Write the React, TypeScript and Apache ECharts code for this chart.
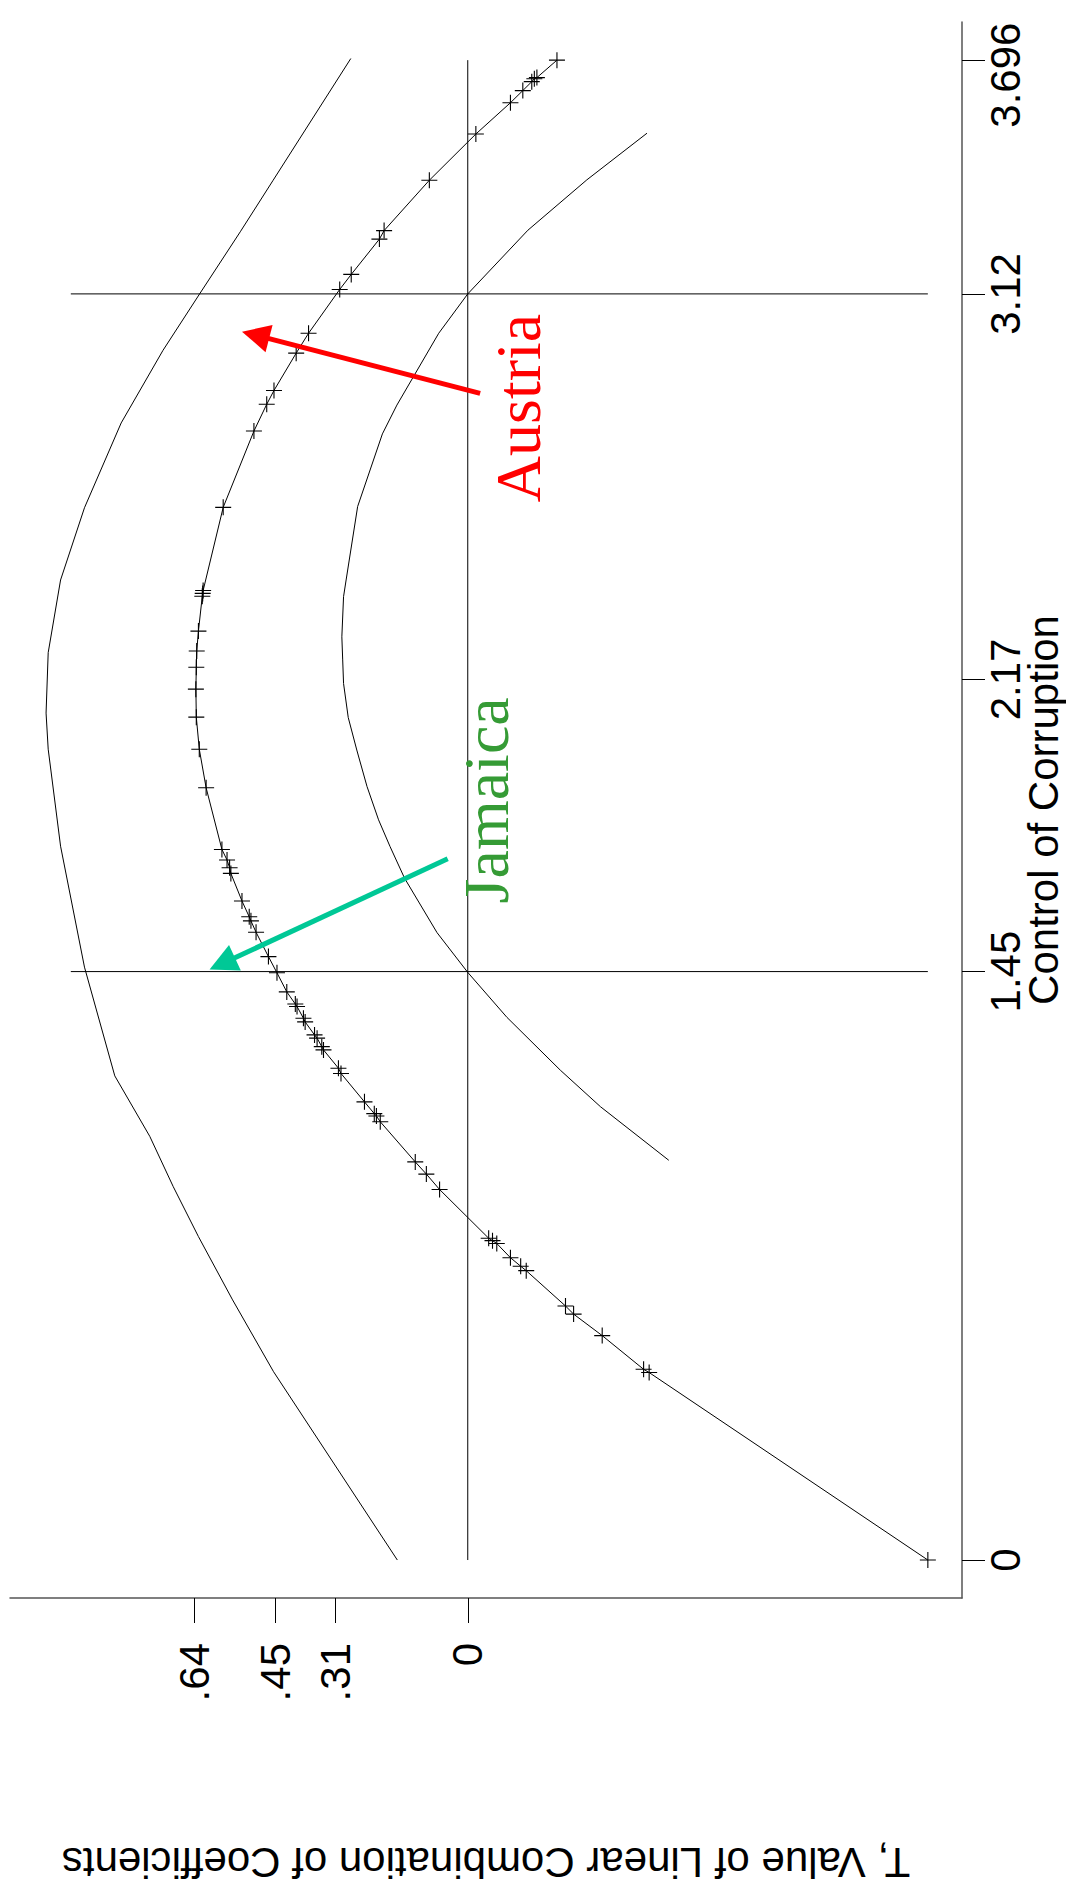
import React, { useEffect, useRef } from 'react';
import * as echarts from 'echarts';

// Axis ticks
const ccTicks = [0, 1.45, 2.17, 3.12, 3.696];
const tTicks = [0, 0.31, 0.45, 0.64];

// Fitted combination (with + markers): control of corruption / T value
const fitCC = [0, 0.462, 0.47, 0.553, 0.606, 0.626, 0.713, 0.724, 0.745, 0.78, 0.787, 0.793, 0.913, 0.951, 0.981,
  1.08, 1.094, 1.1, 1.129, 1.199, 1.212, 1.257, 1.265, 1.286, 1.294, 1.326, 1.335, 1.364, 1.37, 1.4, 1.447, 1.487,
  1.547, 1.575, 1.585, 1.624, 1.692, 1.706, 1.725, 1.751, 1.903, 1.998, 2.077, 2.146, 2.2, 2.24, 2.289, 2.375,
  2.382, 2.389, 2.594, 2.782, 2.848, 2.882, 2.974, 3.023, 3.131, 3.168, 3.255, 3.276, 3.4, 3.514, 3.591, 3.621,
  3.643, 3.65, 3.653, 3.696];
const fitT = [-1.078, -0.425, -0.412, -0.315, -0.248, -0.229, -0.137, -0.124, -0.1, -0.068, -0.058, -0.049, 0.066,
  0.097, 0.123, 0.205, 0.214, 0.219, 0.242, 0.297, 0.303, 0.338, 0.342, 0.353, 0.359, 0.381, 0.385, 0.4, 0.404,
  0.424, 0.447, 0.467, 0.496, 0.508, 0.512, 0.529, 0.555, 0.558, 0.564, 0.576, 0.613, 0.629, 0.636, 0.637, 0.636,
  0.635, 0.631, 0.622, 0.621, 0.62, 0.573, 0.501, 0.471, 0.454, 0.402, 0.373, 0.3, 0.273, 0.207, 0.196, 0.09,
  -0.019, -0.1, -0.129, -0.15, -0.156, -0.162, -0.209];

// Upper band
const upperCC = [0, 0.464, 0.641, 0.797, 0.92, 1.044, 1.193, 1.461, 1.759, 1.998, 2.087, 2.236, 2.415, 2.593, 2.802,
  2.981, 3.122, 3.273, 3.4, 3.7];
const upperT = [0.165, 0.455, 0.551, 0.631, 0.69, 0.745, 0.827, 0.898, 0.954, 0.983, 0.988, 0.983, 0.954, 0.898,
  0.812, 0.714, 0.627, 0.533, 0.456, 0.274];

// Lower band
const lowerCC = [0.985, 1.117, 1.207, 1.337, 1.448, 1.546, 1.68, 1.758, 1.824, 1.906, 1.996, 2.076, 2.16, 2.218,
  2.275, 2.374, 2.415, 2.596, 2.775, 2.846, 3.023, 3.12, 3.277, 3.401, 3.516];
const lowerT = [-0.471, -0.311, -0.217, -0.092, 0, 0.072, 0.148, 0.182, 0.209, 0.236, 0.26, 0.28, 0.291, 0.293,
  0.295, 0.291, 0.285, 0.258, 0.2, 0.166, 0.068, 0, -0.141, -0.279, -0.42];

// Reference lines
const refCC = [1.45, 3.12];
const refTSpan = [0.93, -1.078];
const zeroLineCC = [0, 3.696];

// Annotations
const annNames = ['Austria', 'Jamaica'];
const annColors = ['#ff0000', '#359b35'];
const arrowColors = ['#ff0000', '#00c896'];
const annTextT = [-0.118, -0.043];
const annTextCC = [2.839, 1.872];
const arrowTailT = [-0.029, 0.047];
const arrowTailCC = [2.875, 1.728];
const arrowTipT = [0.529, 0.605];
const arrowTipCC = [3.027, 1.455];

const SANS = '"Liberation Sans", Arial, Helvetica, sans-serif';
const SERIF = '"Liberation Serif", "Times New Roman", serif';
const PLUS = 'path://M0,10L20,10M10,0L10,20';

export default function App() {
  const ref = useRef<HTMLDivElement>(null);
  useEffect(() => {
    document.body.style.margin = '0';
    const chart = echarts.init(ref.current!, null, { renderer: 'svg' });
    const zip = (ts: number[], cs: number[]) => ts.map((t, i) => [t, cs[i]]);
    const thin = { color: '#000', width: 1 };
    const series: any[] = [
      {
        type: 'line', data: zip(upperT, upperCC), symbol: 'none', lineStyle: thin, silent: true,
      },
      {
        type: 'line', data: zip(lowerT, lowerCC), symbol: 'none', lineStyle: thin, silent: true,
      },
      {
        type: 'line', data: [[0, zeroLineCC[0]], [0, zeroLineCC[1]]], symbol: 'none', lineStyle: thin, silent: true,
      },
      ...refCC.map((c) => ({
        type: 'line', data: [[refTSpan[0], c], [refTSpan[1], c]], symbol: 'none', lineStyle: thin, silent: true,
      })),
      {
        type: 'line', data: zip(fitT, fitCC), symbol: PLUS, symbolSize: 16, showAllSymbol: true,
        lineStyle: thin,
        itemStyle: { color: 'rgba(0,0,0,0)', borderColor: '#000', borderWidth: 1.1 },
        silent: true, z: 5,
      },
    ];
    chart.setOption({
      animation: false,
      backgroundColor: '#fff',
      grid: { left: 10, right: 104, top: 22, bottom: 298, outerBoundsMode: 'none' },
      xAxis: {
        type: 'value', position: 'bottom', inverse: true, min: -1.158, max: 1.0725,
        axisLine: { show: true, onZero: false, lineStyle: { color: '#555', width: 1.5 } },
        axisTick: { show: true, customValues: tTicks, length: 25, lineStyle: { color: '#000', width: 1 } },
        axisLabel: {
          customValues: tTicks, rotate: 90, margin: 45, fontSize: 42, fontFamily: SANS, color: '#000',
          formatter: (v: number) => (v === 0 ? '0' : String(v).replace(/^0/, '')),
        },
        splitLine: { show: false },
        name: 'T, Value of Linear Combination of Coefficients',
        nameLocation: 'middle', nameRotate: 180, nameGap: 243, nameMoveOverlap: false,
        nameTextStyle: { fontSize: 42, fontFamily: SANS, color: '#000' },
      },
      yAxis: {
        type: 'value', position: 'right', min: -0.0936, max: 3.79,
        axisLine: { show: true, onZero: false, lineStyle: { color: '#555', width: 1.5 } },
        axisTick: { show: true, customValues: ccTicks, length: 23, lineStyle: { color: '#000', width: 1 } },
        axisLabel: {
          customValues: ccTicks, rotate: 90, margin: 22, fontSize: 42, fontFamily: SANS, color: '#000',
          formatter: (v: number) => (v === 3.696 ? '{s|3.696}' : String(v)),
          rich: { s: { fontSize: 42, fontFamily: SANS, color: '#000', padding: [0, 30, 0, 0] } },
        },
        splitLine: { show: false },
        name: 'Control of Corruption', nameLocation: 'middle', nameGap: 60, nameMoveOverlap: false,
        nameTextStyle: { fontSize: 42, fontFamily: SANS, color: '#000' },
      },
      series,
    });

    const px = (t: number, c: number) => chart.convertToPixel({ gridIndex: 0 }, [t, c]) as number[];
    const graphics: any[] = [];
    annNames.forEach((name, i) => {
      const tail = px(arrowTailT[i], arrowTailCC[i]);
      const tip = px(arrowTipT[i], arrowTipCC[i]);
      const dx = tip[0] - tail[0];
      const dy = tip[1] - tail[1];
      const len = Math.hypot(dx, dy);
      const ux = dx / len;
      const uy = dy / len;
      const L = 28;
      const W = 14;
      const bx = tip[0] - ux * L;
      const by = tip[1] - uy * L;
      graphics.push({
        type: 'line', z: 100,
        shape: { x1: tail[0], y1: tail[1], x2: tip[0] - ux * (L - 3), y2: tip[1] - uy * (L - 3) },
        style: { stroke: arrowColors[i], lineWidth: 5 },
      });
      graphics.push({
        type: 'polygon', z: 100,
        shape: { points: [[tip[0], tip[1]], [bx - uy * W, by + ux * W], [bx + uy * W, by - ux * W]] },
        style: { fill: arrowColors[i] },
      });
      const tp = px(annTextT[i], annTextCC[i]);
      graphics.push({
        type: 'text', z: 100, x: tp[0], y: tp[1], rotation: Math.PI / 2,
        style: {
          text: name, fill: annColors[i], font: `64px ${SERIF}`, fontSize: 64, fontFamily: SERIF,
          textAlign: 'center', textVerticalAlign: 'middle', align: 'center', verticalAlign: 'middle',
        },
      });
    });
    chart.setOption({ graphic: graphics });
    return () => chart.dispose();
  }, []);
  return <div ref={ref} style={{ position: 'absolute', left: 0, top: 0, width: 1066, height: 1896 }} />;
}
